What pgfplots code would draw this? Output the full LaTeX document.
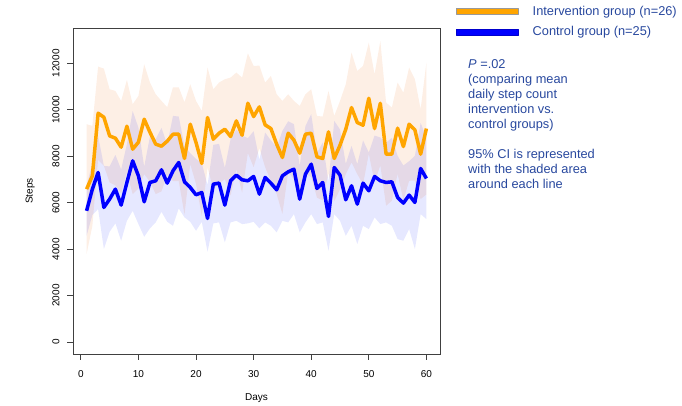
\documentclass[border=0pt]{standalone}
\usepackage{pgfplots}
\pgfplotsset{compat=1.18}
\usepackage{pgfplotstable}
\usepgfplotslibrary{fillbetween}
\usepackage{fontspec}
\setmainfont{Liberation Sans}
\definecolor{lineorange}{RGB}{255,165,0}
\definecolor{bandorange}{RGB}{240,120,40}
\definecolor{lineblue}{RGB}{0,0,255}
\definecolor{bandblue}{RGB}{30,45,255}
\definecolor{txtblue}{RGB}{40,72,158}

\pgfplotstableread{
d om ou ol bm bu bl
1 6580 9376 3784 5647 6722 4572
2 7152 9304 5000 6580 7698 5462
3 9850 11857 7843 7297 8874 5720
4 9677 11771 7583 5792 7584 4000
5 8873 10881 6865 6150 7556 4744
6 8774 10809 6739 6580 8055 5105
7 8387 10379 6395 5892 7427 4357
8 9290 11283 7297 6868 8519 5217
9 8301 10236 6366 7798 9949 5647
10 8602 10594 6610 7152 9229 5075
11 9591 11957 7225 6035 7541 4529
12 9032 11170 6894 6868 8846 4890
13 8516 10666 6366 6939 8730 5148
14 8430 10379 6481 7412 9220 5604
15 8645 10107 7183 6839 8504 5174
16 8946 10967 6925 7368 9734 5002
17 8946 10967 6925 7728 9706 5750
18 7900 10322 5478 6896 8429 5363
19 9376 11096 7656 6652 8130 5174
20 8588 10379 6797 6336 7885 4787
21 7685 9948 5422 6437 7700 5174
22 9664 11814 7514 5319 6754 3884
23 8731 10881 6581 6796 8487 5105
24 8989 11170 6808 6839 8530 5148
25 9161 11312 7010 5892 7496 4288
26 8846 11384 6308 6939 8730 5148
27 9519 11600 7438 7183 9149 5217
28 8903 11384 6422 6982 8889 5075
29 10280 12430 8130 6939 8773 5105
30 9706 11886 7526 7126 9078 5174
31 10121 11900 8342 6366 7842 4890
32 9347 11170 7524 7083 9018 5148
33 9190 11455 6925 6839 8676 5002
34 8516 10666 6366 6551 8384 4718
35 7943 10379 5507 7154 9091 5217
36 8989 10666 7312 7326 9504 5148
37 8688 10379 6997 7441 9377 5505
38 8129 10164 6094 6150 7582 4718
39 8946 10666 7226 7226 9304 5148
40 8989 10881 7097 7656 9807 5505
41 7972 9733 6211 6609 8143 5075
42 7900 9706 6094 6868 8588 5148
43 9046 10809 7283 5405 6883 3927
44 7900 9733 6067 7512 9519 5505
45 8473 10379 6567 7183 9149 5217
46 9161 11096 7226 6122 7672 4572
47 10093 12459 7727 6724 8446 5002
48 9448 11669 7227 5935 7655 4215
49 9333 11886 6780 6839 8676 5002
50 10494 12890 8098 6509 8158 4860
51 9190 11527 6853 7126 8889 5363
52 10279 12959 7599 6939 8803 5075
53 8086 10308 5864 6868 8588 5148
54 8086 10093 6079 6896 8790 5002
55 9204 11170 7238 6222 8014 4430
56 8415 10737 6093 5978 7599 4357
57 9376 11814 6938 6322 7784 4860
58 9132 11312 6952 6007 8014 4000
59 8086 10021 6151 7469 9433 5505
60 9190 12029 6351 7040 8790 5290
}\steps

\begin{document}
\begin{tikzpicture}
\begin{axis}[
  at={(73bp,52bp)}, anchor=south west,
  scale only axis, width=367bp, height=326bp,
  xmin=-1.36, xmax=62.36, ymin=-520, ymax=13520,
  xtick={0,10,...,60}, ytick={0,2000,...,12000},
  tick align=outside, xtick pos=bottom, ytick pos=left,
  major tick length=6bp,
  axis line style={black!75, line width=0.8bp},
  tick style={black!75, line width=0.8bp},
  yticklabel style={rotate=90, anchor=south},
  xticklabel shift=7bp, yticklabel shift=4bp,
  scaled y ticks=false,
  /pgf/number format/assume math mode=true,
  /pgf/number format/1000 sep={},
  tick label style={font=\fontsize{10bp}{12bp}\selectfont},
  label style={font=\fontsize{10bp}{12bp}\selectfont},
  xlabel={Days}, ylabel={Steps},
  xlabel style={at={(axis description cs:0.5,-0.135)}, anchor=center},
  ylabel style={at={(axis description cs:-0.117,0.5)}, anchor=center},
  legend cell align=left,
  legend style={at={(axis description cs:1.0436,1.075)}, anchor=north west,
    draw=none, fill=none, inner sep=0pt, row sep=6bp, text=txtblue,
    /tikz/every odd column/.append style={column sep=12bp},
    font=\fontsize{12.8bp}{14bp}\selectfont},
]
\addplot[name path=ou, draw=none, forget plot] table[x=d, y=ou]{\steps};
\addplot[name path=ol, draw=none, forget plot] table[x=d, y=ol]{\steps};
\addplot[fill=bandorange, fill opacity=0.12, draw=none, forget plot] fill between[of=ou and ol];
\addplot[name path=bu, draw=none, forget plot] table[x=d, y=bu]{\steps};
\addplot[name path=bl, draw=none, forget plot] table[x=d, y=bl]{\steps};
\addplot[fill=bandblue, fill opacity=0.11, draw=none, forget plot] fill between[of=bu and bl];

\addplot[lineorange, line width=3.5bp, line join=round,
  legend image code/.code={\draw[fill=lineorange, draw=black!40, line width=0.5bp] (0bp,-3bp) rectangle (62bp,3bp);}]
  table[x=d, y=om]{\steps};
\addlegendentry{Intervention group (n=26)}
\addplot[lineblue, line width=3.5bp, line join=round,
  legend image code/.code={\draw[fill=lineblue, draw=lineblue!80!black, line width=0.5bp] (0bp,-3bp) rectangle (62bp,3bp);}]
  table[x=d, y=bm]{\steps};
\addlegendentry{Control group (n=25)}
\end{axis}
\node[anchor=north west, align=left, text=txtblue, inner sep=0pt,
  font=\fontsize{12.8bp}{15bp}\selectfont] at (468bp,347bp)
  {\textit{P} =.02\\(comparing mean\\daily step count\\intervention vs.\\control groups)\\[15bp]95\% CI is represented\\with the shaded area\\around each line};
\path (0bp,0bp) rectangle (682bp,406bp);
\end{tikzpicture}
\end{document}
